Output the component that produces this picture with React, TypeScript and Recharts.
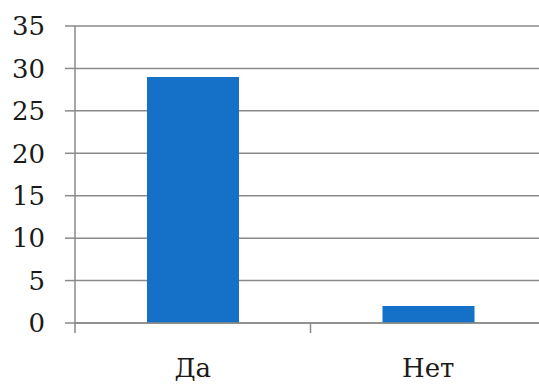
import { BarChart, Bar, XAxis, YAxis, CartesianGrid } from "recharts";

const categories = ["Да", "Нет"];
const counts = [29, 2];
const yTicks = [0, 5, 10, 15, 20, 25, 30, 35];

const data = categories.map((name, i) => ({ name, count: counts[i] }));

const AXIS_GRAY = "#8a8a8a";
const SERIF = "DejaVu Serif";
const FONT_SIZE = 26;
const TICK_SIZE = 10;
const TICK_MARGIN = 26;

// Category label plus a short tick at the left edge of its band
function CategoryTick(props: any) {
  const { x, y, payload } = props;
  const half = payload?.offset ?? 0;
  const axisY = y - TICK_SIZE - TICK_MARGIN;
  return (
    <g>
      <line
        x1={x - half}
        x2={x - half}
        y1={axisY}
        y2={axisY + TICK_SIZE}
        stroke={AXIS_GRAY}
        strokeWidth={1.5}
      />
      <text
        x={x}
        y={y}
        dy="0.71em"
        textAnchor="middle"
        fontFamily={SERIF}
        fontSize={FONT_SIZE}
        fill="#1a1a1a"
      >
        {payload.value}
      </text>
    </g>
  );
}

// Value label on the left of each gridline
function ValueTick(props: any) {
  const { x, y, payload } = props;
  return (
    <text
      x={x}
      y={y}
      dy="0.355em"
      textAnchor="end"
      fontFamily={SERIF}
      fontSize={FONT_SIZE}
      fill="#1a1a1a"
    >
      {payload.value}
    </text>
  );
}

export default function App() {
  return (
    <div
      style={{
        position: "absolute",
        left: 0,
        top: 0,
        width: 539,
        height: 385,
        overflow: "hidden",
        background: "#fff",
      }}
    >
      <BarChart
        width={560}
        height={385}
        data={data}
        margin={{ top: 26, right: 14, left: 0, bottom: 0 }}
      >
        <CartesianGrid vertical={false} stroke={AXIS_GRAY} strokeWidth={1.5} />
        <XAxis
          dataKey="name"
          height={62}
          tickSize={TICK_SIZE}
          tickMargin={TICK_MARGIN}
          tick={<CategoryTick />}
          tickLine={false}
          axisLine={{ stroke: AXIS_GRAY, strokeWidth: 1.5 }}
        />
        <YAxis
          width={75}
          domain={[0, 35]}
          ticks={yTicks}
          interval={0}
          tickSize={10}
          tickMargin={20}
          tick={<ValueTick />}
          tickLine={{ stroke: AXIS_GRAY, strokeWidth: 1.5 }}
          axisLine={{ stroke: AXIS_GRAY, strokeWidth: 1.5 }}
        />
        <Bar dataKey="count" fill="#1570c8" barSize={92} isAnimationActive={false} />
      </BarChart>
    </div>
  );
}
